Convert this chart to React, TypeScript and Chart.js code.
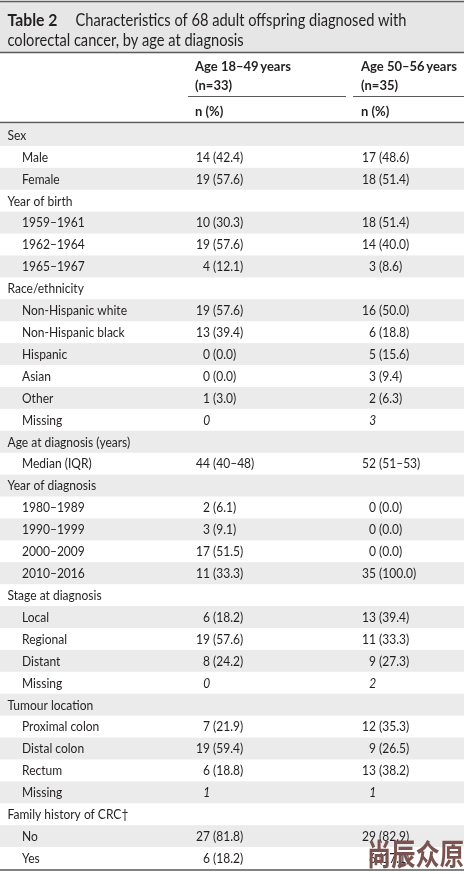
import React, { useEffect, useRef } from "react";
import { Chart, registerables } from "chart.js";

Chart.register(...registerables);

const titleBold = "Table 2";
const titleLine1 = "Characteristics of 68 adult offspring diagnosed with";
const titleLine2 = "colorectal cancer, by age at diagnosis";
const colHeaders = ["Age 18\u201349\u2009years", "Age 50\u201356\u2009years"];
const colSubHeaders = ["(n=33)", "(n=35)"];
const unitHeader = "n (%)";

const rowLabels = [
  "Sex", "Male", "Female",
  "Year of birth", "1959\u20131961", "1962\u20131964", "1965\u20131967",
  "Race/ethnicity", "Non-Hispanic white", "Non-Hispanic black", "Hispanic", "Asian", "Other", "Missing",
  "Age at diagnosis (years)", "Median (IQR)",
  "Year of diagnosis", "1980\u20131989", "1990\u20131999", "2000\u20132009", "2010\u20132016",
  "Stage at diagnosis", "Local", "Regional", "Distant", "Missing",
  "Tumour location", "Proximal colon", "Distal colon", "Rectum", "Missing",
  "Family history of CRC\u2020", "No", "Yes",
];

const groupRows = [
  true, false, false,
  true, false, false, false,
  true, false, false, false, false, false, false,
  true, false,
  true, false, false, false, false,
  true, false, false, false, false,
  true, false, false, false, false,
  true, false, false,
];

const youngCounts = [
  null, 14, 19,
  null, 10, 19, 4,
  null, 19, 13, 0, 0, 1, 0,
  null, 44,
  null, 2, 3, 17, 11,
  null, 6, 19, 8, 0,
  null, 7, 19, 6, 1,
  null, 27, 6,
];
const youngDetail = [
  null, "42.4", "57.6",
  null, "30.3", "57.6", "12.1",
  null, "57.6", "39.4", "0.0", "0.0", "3.0", null,
  null, "40\u201348",
  null, "6.1", "9.1", "51.5", "33.3",
  null, "18.2", "57.6", "24.2", null,
  null, "21.9", "59.4", "18.8", null,
  null, "81.8", "18.2",
];
const olderCounts = [
  null, 17, 18,
  null, 18, 14, 3,
  null, 16, 6, 5, 3, 2, 3,
  null, 52,
  null, 0, 0, 0, 35,
  null, 13, 11, 9, 2,
  null, 12, 9, 13, 1,
  null, 29, 6,
];
const olderDetail = [
  null, "48.6", "51.4",
  null, "51.4", "40.0", "8.6",
  null, "50.0", "18.8", "15.6", "9.4", "6.3", null,
  null, "51\u201353",
  null, "0.0", "0.0", "0.0", "100.0",
  null, "39.4", "33.3", "27.3", null,
  null, "35.3", "26.5", "38.2", null,
  null, "82.9", "17.1",
];
const watermark = "\u5c1a\u8fb0\u4f17\u539f";

const FONT = "Lato, 'Liberation Sans', sans-serif";
const TEXT = "#231f20";
const STRIPE = "#ebebeb";
const TITLE_BG = "#e6e6e6";
const RULE = "#5a5a5a";

function txt(ctx: any, s: string, x: number, y: number, align: string, sx: number) {
  ctx.save();
  ctx.translate(x, y);
  ctx.scale(sx, 1);
  ctx.textAlign = align;
  ctx.fillText(s, 0, 0);
  ctx.restore();
}
function fitScale(ctx: any, font: string, sample: string, target: number) {
  ctx.save();
  ctx.font = font;
  const w = ctx.measureText(sample).width;
  ctx.restore();
  return w > 0 ? target / w : 1;
}

const F_ROW = `13.5px ${FONT}`;
const F_ROW_I = `italic 13.5px ${FONT}`;
const F_HEAD = `bold 13.5px ${FONT}`;
const F_TITLE = `17px ${FONT}`;
const F_TITLE_B = `bold 17px ${FONT}`;

const tablePlugin = {
  id: "tablePlugin",
  beforeDatasetsDraw(chart: any) {
    const { ctx, chartArea, scales } = chart;
    const y = scales.y;
    const band = y.getPixelForValue(1) - y.getPixelForValue(0);
    ctx.save();
    for (let i = 0; i < rowLabels.length; i++) {
      if (i % 2 === 0) {
        const c = y.getPixelForValue(i);
        ctx.fillStyle = STRIPE;
        ctx.fillRect(chartArea.left, c - band / 2, chartArea.right - chartArea.left, band);
      }
    }
    ctx.fillStyle = TITLE_BG;
    ctx.fillRect(chartArea.left, 2, chartArea.right - chartArea.left, 50);
    ctx.strokeStyle = RULE;
    ctx.lineWidth = 1.5;
    ctx.beginPath();
    ctx.moveTo(chartArea.left, 1.5); ctx.lineTo(chartArea.right, 1.5);
    ctx.moveTo(chartArea.left, 52.5); ctx.lineTo(chartArea.right, 52.5);
    ctx.moveTo(chartArea.left, chartArea.top - 1.5); ctx.lineTo(chartArea.right, chartArea.top - 1.5);
    ctx.moveTo(chartArea.left, chartArea.bottom + 1); ctx.lineTo(chartArea.right, chartArea.bottom + 1);
    ctx.stroke();
    ctx.lineWidth = 1;
    const x = scales.x;
    const a1 = x.getPixelForValue(1), a2 = x.getPixelForValue(2);
    ctx.beginPath();
    ctx.moveTo(a1 - 25, 96.5); ctx.lineTo(a2 - 33, 96.5);
    ctx.moveTo(a2 - 26, 96.5); ctx.lineTo(chartArea.right, 96.5);
    ctx.stroke();

    ctx.fillStyle = TEXT;
    ctx.textBaseline = "alphabetic";
    const sT = fitScale(ctx, F_TITLE, titleLine1, 331);
    const sTB = fitScale(ctx, F_TITLE_B, titleBold, 50);
    ctx.font = F_TITLE_B;
    txt(ctx, titleBold, chartArea.left + 7.5, 26, "left", sTB);
    ctx.font = F_TITLE;
    txt(ctx, titleLine1, chartArea.left + 75.5, 26, "left", sT);
    txt(ctx, titleLine2, chartArea.left + 7.5, 45.5, "left", sT);

    const sH = fitScale(ctx, F_HEAD, colHeaders[0], 96);
    ctx.font = F_HEAD;
    [a1, a2].forEach((a, k) => {
      txt(ctx, colHeaders[k], a - 18, 71, "left", sH);
      txt(ctx, colSubHeaders[k], a - 18, 90, "left", sH);
      txt(ctx, unitHeader, a - 18, 116, "left", sH);
    });
    ctx.restore();
  },
  afterDatasetsDraw(chart: any) {
    const { ctx, chartArea, scales } = chart;
    const y = scales.y;
    ctx.save();
    ctx.fillStyle = TEXT;
    ctx.textBaseline = "middle";
    const sR = fitScale(ctx, F_ROW, "Non-Hispanic white", 105);
    ctx.font = F_ROW;
    rowLabels.forEach((lab, i) => {
      const py = y.getPixelForValue(i) + 0.5;
      txt(ctx, lab, chartArea.left + (groupRows[i] ? 7.5 : 22), py, "left", sR);
    });
    const details = [youngDetail, olderDetail];
    chart.data.datasets.forEach((ds: any, di: number) => {
      const meta = chart.getDatasetMeta(di);
      meta.data.forEach((pt: any, i: number) => {
        const raw = ds.data[i];
        if (!raw || raw.n === null) return;
        const det = details[di][i];
        const ax = pt.x, ay = pt.y + 0.5;
        if (det === null) {
          ctx.font = F_ROW_I;
          txt(ctx, `${raw.n} `, ax, ay, "right", sR);
        } else {
          ctx.font = F_ROW;
          txt(ctx, `${raw.n} `, ax, ay, "right", sR);
          txt(ctx, `(${det})`, ax, ay, "left", sR);
        }
      });
    });
    ctx.save();
    ctx.font = `bold 25px 'Noto Sans CJK SC', sans-serif`;
    ctx.fillStyle = "#7a5350";
    ctx.textBaseline = "middle";
    ctx.translate(chartArea.right, y.getPixelForValue(rowLabels.length - 1) - 4);
    ctx.scale(0.97, 1.18);
    ctx.textAlign = "right";
    ctx.fillText(watermark, 0, 0);
    ctx.restore();
    ctx.restore();
  },
};

export default function App() {
  const ref = useRef<HTMLCanvasElement | null>(null);
  useEffect(() => {
    document.body.style.margin = "0";
    const canvas = ref.current!;
    const mk = (counts: (number | null)[], col: number) =>
      counts.map((n, i) => ({ x: col, y: rowLabels[i], n }));
    const chart = new Chart(canvas, {
      type: "scatter",
      data: {
        labels: rowLabels,
        datasets: [
          { label: colHeaders[0], data: mk(youngCounts, 1) as any, pointRadius: 0, showLine: false },
          { label: colHeaders[1], data: mk(olderCounts, 2) as any, pointRadius: 0, showLine: false },
        ],
      },
      options: {
        animation: false,
        responsive: false,
        events: [],
        layout: { padding: { top: 124, right: 4, bottom: 5, left: 0 } },
        plugins: { legend: { display: false }, tooltip: { enabled: false } },
        scales: {
          x: { type: "linear", display: false, min: -0.2831, max: 2.5120 },
          y: { type: "category", labels: rowLabels, display: false, offset: true },
        },
      },
      plugins: [tablePlugin],
    });
    return () => chart.destroy();
  }, []);
  return (
    <div style={{ width: 468, height: 874, background: "#fff" }}>
      <canvas ref={ref} width={468} height={874} style={{ display: "block" }} />
    </div>
  );
}
